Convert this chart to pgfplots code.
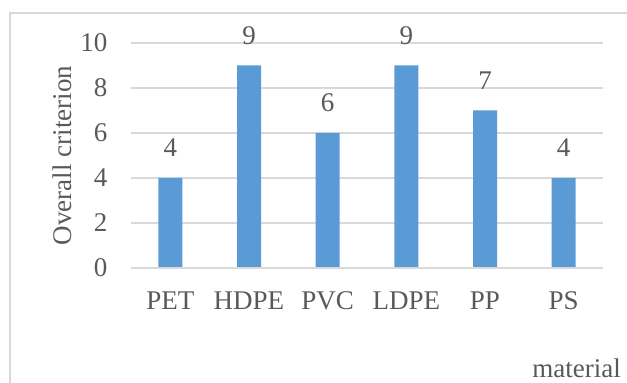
\documentclass[border=0pt]{standalone}
\usepackage{pgfplots}
\pgfplotsset{compat=1.18}
\usepackage{fontspec}
\setmainfont{Liberation Serif}

\definecolor{barblue}{HTML}{5B9BD5}
\definecolor{gridgray}{HTML}{D9D9D9}
\definecolor{textgray}{HTML}{595959}

\pgfplotstableread{
idx material value
0 PET  4
1 HDPE 9
2 PVC  6
3 LDPE 9
4 PP   7
5 PS   4
}\materialdata

\begin{document}
\begin{tikzpicture}
% chart area
\path[use as bounding box] (0,0) rectangle (627bp,383bp);
\draw[gridgray, line width=2bp] (10bp,0) -- (10bp,370bp) -- (627bp,370bp);

\begin{axis}[
  at={(131bp,115bp)}, anchor=south west,
  scale only axis,
  width=472bp, height=225bp,
  xmin=-0.5, xmax=5.5,
  ymin=0, ymax=10,
  ytick={0,2,...,10},
  xtick=data,
  xticklabels={PET,HDPE,PVC,LDPE,PP,PS},
  axis line style={draw=none},
  major tick length=0pt,
  ymajorgrids,
  grid style={gridgray, line width=1.2bp},
  font=\fontsize{27bp}{31bp}\selectfont,
  /pgf/number format/assume math mode=true,
  ticklabel style={text=textgray},
  yticklabel style={anchor=east, xshift=-20bp},
  xticklabel style={anchor=center, yshift=-33bp},
  xlabel={material},
  ylabel={Overall criterion},
  xlabel style={at={(axis description cs:0.944,-0.444)}, anchor=center, text=textgray},
  ylabel style={at={(axis description cs:-0.146,0.5)}, anchor=center, rotate=0, text=textgray},
  ybar, bar width=24bp,
  nodes near coords,
  every node near coord/.append style={anchor=center, yshift=30bp, text=textgray},
  clip=false,
]
\addplot[fill=barblue, draw=none] table[x=idx, y=value] {\materialdata};
\draw[gridgray, line width=1.5bp] (axis cs:-0.5,0) -- (axis cs:5.5,0);
\end{axis}
\end{tikzpicture}
\end{document}
